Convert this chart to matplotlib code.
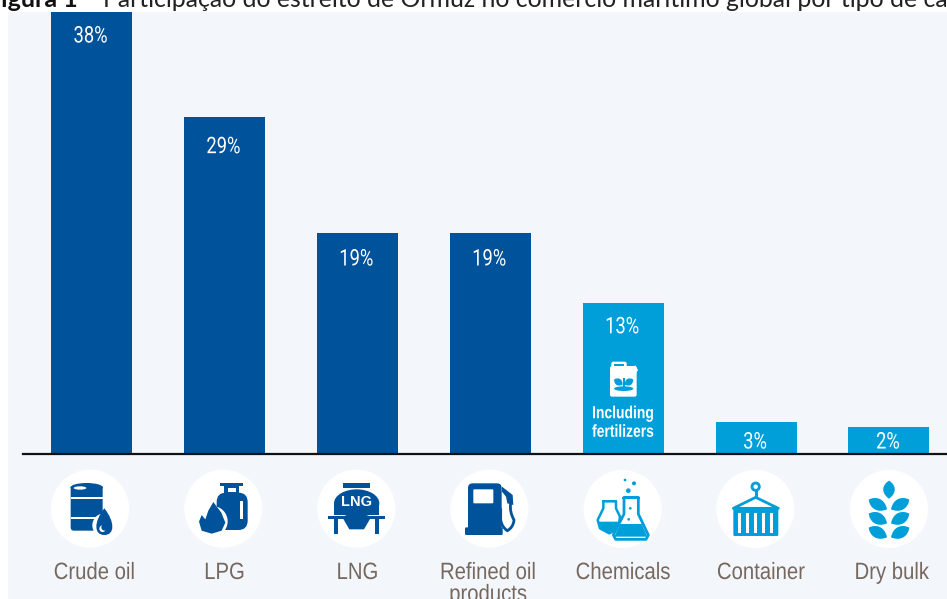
import numpy as np
import matplotlib
matplotlib.use("Agg")
import matplotlib.pyplot as plt
from matplotlib.patches import Circle, Ellipse, Polygon, Rectangle, FancyBboxPatch, PathPatch
from matplotlib.patheffects import AbstractPathEffect
from matplotlib.path import Path
from matplotlib.transforms import Affine2D

categories = ["Crude oil", "LPG", "LNG", "Refined oil\nproducts", "Chemicals", "Container", "Dry bulk"]
shares = [38, 29, 19, 19, 13, 2.75, 2.3]
share_labels = ["38%", "29%", "19%", "19%", "13%", "3%", "2%"]
is_dark = [True, True, True, True, False, False, False]

DARK = "#00529b"
LIGHT = "#009fda"
PANEL = "#f3f7fc"
BROWN = "#76685e"
W, H = 947, 599
STEP = 132.9
FIRST = 91.5

fig = plt.figure(figsize=(W / 100, H / 100), dpi=100, facecolor="white")


class Squeeze(AbstractPathEffect):
    """narrows a text around a pixel column, no condensed font is installed"""

    def __init__(self, cx, sx):
        super().__init__()
        self.cx = cx
        self.sx = sx

    def draw_path(self, renderer, gc, tpath, affine, rgbFace=None):
        squeeze = Affine2D().translate(-self.cx, 0).scale(self.sx, 1).translate(self.cx, 0)
        renderer.draw_path(gc, tpath, affine + squeeze, rgbFace)


def px_axes(left, top, right, bottom, **kw):
    return fig.add_axes([left / W, 1 - bottom / H, (right - left) / W, (bottom - top) / H], **kw)


# panel behind everything
bg = px_axes(0, 0, W, H, zorder=1)
bg.set_xlim(0, W)
bg.set_ylim(H, 0)
bg.axis("off")
bg.add_patch(Rectangle((8, 12), W - 8, H - 12, fc=PANEL, ec="none"))

# bars
ax = px_axes(23, 12, W, 454, zorder=2)
ax.patch.set_alpha(0)
ax.set_xlim((23 - FIRST) / STEP, (947 - FIRST) / STEP)
ax.set_ylim(0, 38)
x = np.arange(len(categories))
colors = [DARK if d else LIGHT for d in is_dark]
ax.bar(x, shares, width=81 / STEP, color=colors, linewidth=0)
for side in ["top", "left", "right"]:
    ax.spines[side].set_visible(False)
ax.spines["bottom"].set_linewidth(1.6)
ax.spines["bottom"].set_color("#111111")
ax.set_yticks([])
ax.set_xticks([])

value_drop = [24, 30, 26, 26, 24]
for i, (val, lab) in enumerate(zip(shares, share_labels)):
    if val > 5:
        t = ax.annotate(lab, (i, val), xytext=(-1, -value_drop[i]), textcoords="offset pixels", ha="center", va="center",
                        color="white", fontsize=16.5, family="Roboto")
    else:
        t = ax.annotate(lab, (i, 0), xytext=(-1, 12), textcoords="offset pixels", ha="center", va="center",
                        color="white", fontsize=16.5, family="Roboto")
    t.set_path_effects([Squeeze(FIRST + STEP * i - 1, 0.8)])

t = ax.annotate("Including\nfertilizers", (4, 0), xytext=(0, 31), textcoords="offset pixels", ha="center", va="center",
                color="white", fontsize=12.5, family="Liberation Sans", fontweight="bold", linespacing=1.3)
t.set_path_effects([Squeeze(FIRST + STEP * 4, 0.8)])

nudge = [3, 0, 0, -2, 0, 5, 3]
for i, name in enumerate(categories):
    t = ax.annotate(name, (i, 0), xytext=(nudge[i], -108), textcoords="offset pixels", ha="center", va="top",
                    color=BROWN, fontsize=17, family="Liberation Sans", linespacing=1.0, annotation_clip=False)
    t.set_path_effects([Squeeze(FIRST + STEP * i + nudge[i], 0.86)])

# cropped caption at the very top
fig.text(78 / W, 1 - 7 / H, "Figura 1", ha="right", va="baseline", fontsize=18, fontweight="bold",
         family="Lato", color="#111111")
fig.text(103 / W, 1 - 7 / H, "Participação do estreito de Ormuz no comércio marítimo global por tipo de carga",
         ha="left", va="baseline", fontsize=17.9, family="Lato", color="#222222")

# icons, pixel coords
ic = px_axes(0, 0, W, H, zorder=3)
ic.patch.set_alpha(0)
ic.set_xlim(0, W)
ic.set_ylim(H, 0)
ic.axis("off")


def tf(ox, oy):
    # icon shapes are written in 3x crop units
    return Affine2D().scale(1 / 3).translate(ox, oy) + ic.transData


def add(p, t, z=3):
    p.set_transform(t)
    p.set_zorder(z)
    p.set_clip_on(False)
    ic.add_patch(p)


def box(x0, y0, x1, y1, c, t, r=0, z=3):
    if r:
        add(FancyBboxPatch((x0, y0), x1 - x0, y1 - y0, boxstyle=f"round,pad=0,rounding_size={r}", fc=c, ec="none"), t, z)
    else:
        add(Rectangle((x0, y0), x1 - x0, y1 - y0, fc=c, ec="none"), t, z)


def leaf(cx, cy, length, width, angle, c, t, z=3):
    verts = [(0, 0), (width, -length * 0.35), (width * 0.7, -length * 0.8), (0, -length),
             (-width * 0.7, -length * 0.8), (-width, -length * 0.35), (0, 0)]
    codes = [Path.MOVETO, Path.CURVE4, Path.CURVE4, Path.CURVE4, Path.CURVE4, Path.CURVE4, Path.CURVE4]
    p = Path(verts, codes).transformed(Affine2D().rotate_deg(angle).translate(cx, cy))
    add(PathPatch(p, fc=c, ec="none"), t, z)


t1 = tf(0, 440)
t2 = tf(470, 290)

# white discs
for (cx, cy, t) in [(270, 206, t1), (670, 206, t1), (1069, 206, t1), (1468, 206, t1),
                    (458, 657, t2), (856, 657, t2), (1257, 657, t2)]:
    add(Circle((cx, cy), 117, fc="white", ec="none"), t, 2)

# crude oil barrel
box(212, 140, 308, 272, DARK, t1, r=10)
add(Ellipse((260, 143), 98, 28, fc=DARK, ec="none"), t1)
add(Ellipse((240, 144), 38, 10, fc="white", ec="none"), t1)
box(212, 172, 308, 178, "white", t1)
box(212, 232, 290, 238, "white", t1)
add(Circle((313, 256), 36, fc="white", ec="none"), t1)
drop = Path([(313, 205), (345, 245), (345, 285), (313, 285), (281, 285), (281, 245), (313, 205)],
            [Path.MOVETO, Path.CURVE4, Path.CURVE4, Path.CURVE4, Path.CURVE4, Path.CURVE4, Path.CURVE4])
add(PathPatch(drop, fc=DARK, ec="none"), t1)
add(Circle((308, 266), 10, fc="white", ec="none"), t1, 4)
add(Circle((314, 262), 10, fc=DARK, ec="none"), t1, 4)

# lpg bottle and flame
box(650, 158, 743, 270, DARK, t1, r=28)
box(660, 128, 730, 138, DARK, t1)
box(672, 138, 718, 165, DARK, t1)
box(683, 143, 707, 155, "white", t1)
box(719, 182, 729, 236, "white", t1)
add(Circle((637, 244), 46, fc="white", ec="none"), t1)
add(Polygon([(640, 186), (664, 218), (676, 248), (665, 272), (635, 281), (605, 272), (597, 245),
             (605, 225), (616, 238), (625, 212)], fc=DARK, ec="none"), t1)

# lng tank
box(1030, 130, 1110, 145, DARK, t1)
add(Ellipse((1070, 190), 136, 84, fc=DARK, ec="none"), t1)
box(1002, 190, 1138, 225, DARK, t1)
box(985, 227, 1155, 237, DARK, t1)
box(1002, 237, 1014, 283, DARK, t1)
box(1126, 237, 1138, 283, DARK, t1)
add(Polygon([(1030, 237), (1110, 237), (1092, 268), (1048, 268)], fc=DARK, ec="none"), t1)
ic.text(1070 / 3, 440 + 186 / 3, "LNG", ha="center", va="center", color="white",
        fontsize=10.5, fontweight="bold", family="Liberation Sans", zorder=4)

# fuel pump (crop 2 units)
box(-6, 580, 95, 735, DARK, t2, r=14)
box(-15, 712, 98, 735, DARK, t2, r=4)
box(10, 598, 70, 640, "white", t2, r=3)
add(Polygon([(96, 590), (128, 615), (130, 645), (112, 640), (108, 620), (96, 605)], fc=DARK, ec="none"), t2)
hose = Path([(122, 640), (118, 665), (132, 690), (130, 712), (112, 722), (96, 712), (92, 690), (92, 655)],
            [Path.MOVETO, Path.CURVE3, Path.CURVE3, Path.CURVE3, Path.CURVE3, Path.CURVE3, Path.CURVE3, Path.LINETO])
add(PathPatch(hose, fc="none", ec=DARK, lw=2), t2)

# chemicals flasks
big = [(462, 622), (505, 622), (505, 672), (535, 735), (528, 748), (437, 748), (430, 735), (462, 672)]
add(Polygon(big, fc="white", ec=LIGHT, lw=2, joinstyle="round"), t2, 4)
add(Polygon([(450, 702), (515, 702), (532, 740), (433, 740)], fc=LIGHT, ec="none"), t2, 4)
box(456, 620, 510, 628, LIGHT, t2, z=5)
small = [(400, 634), (438, 634), (438, 655), (450, 680), (445, 715), (418, 730), (390, 715), (383, 690), (400, 655)]
add(Polygon(small, fc="white", ec=LIGHT, lw=1.8, joinstyle="round"), t2, 3)
add(Polygon([(386, 695), (448, 695), (440, 716), (418, 727), (394, 716)], fc=LIGHT, ec="none"), t2, 3)
box(396, 630, 442, 637, LIGHT, t2, z=4)
for (bx, by, r) in [(465, 570, 4), (492, 580, 6), (475, 602, 7), (481, 655, 4), (476, 688, 4)]:
    add(Circle((bx, by), r, fc=LIGHT, ec="none"), t2, 5)

# container
box(790, 655, 925, 738, LIGHT, t2, r=4)
for sx in [803, 827, 851, 875, 899]:
    box(sx, 668, sx + 9, 728, "white", t2)
add(Polygon([(790, 655), (857, 622), (925, 655)], fc="none", ec=LIGHT, lw=2, joinstyle="round"), t2)
add(Circle((857, 590), 11, fc="white", ec=LIGHT, lw=2), t2)
add(PathPatch(Path([(857, 601), (857, 622)]), ec=LIGHT, lw=2.2, fc="none"), t2)

# dry bulk wheat
leaf(1257, 626, 54, 27, 0, LIGHT, t2)
for ly in [658, 700, 742]:
    leaf(1251, ly, 62, 27, -62, LIGHT, t2)
    leaf(1263, ly, 62, 27, 62, LIGHT, t2)

# fertilizer can on the chemicals bar
box(420, 228, 500, 320, "white", t2, r=6, z=5)
box(424, 215, 470, 235, "white", t2, r=6, z=5)
box(432, 221, 462, 229, LIGHT, t2, z=6)
add(Polygon([(478, 238), (496, 226), (504, 240), (498, 250)], fc="white", ec="none"), t2, 5)
leaf(458, 284, 30, 16, -58, LIGHT, t2, z=6)
leaf(464, 284, 30, 16, 58, LIGHT, t2, z=6)
box(458, 265, 464, 292, LIGHT, t2, z=6)
add(Ellipse((461, 296), 58, 14, fc=LIGHT, ec="none"), t2, 6)

fig.savefig("out.png", dpi=100, facecolor="white")
